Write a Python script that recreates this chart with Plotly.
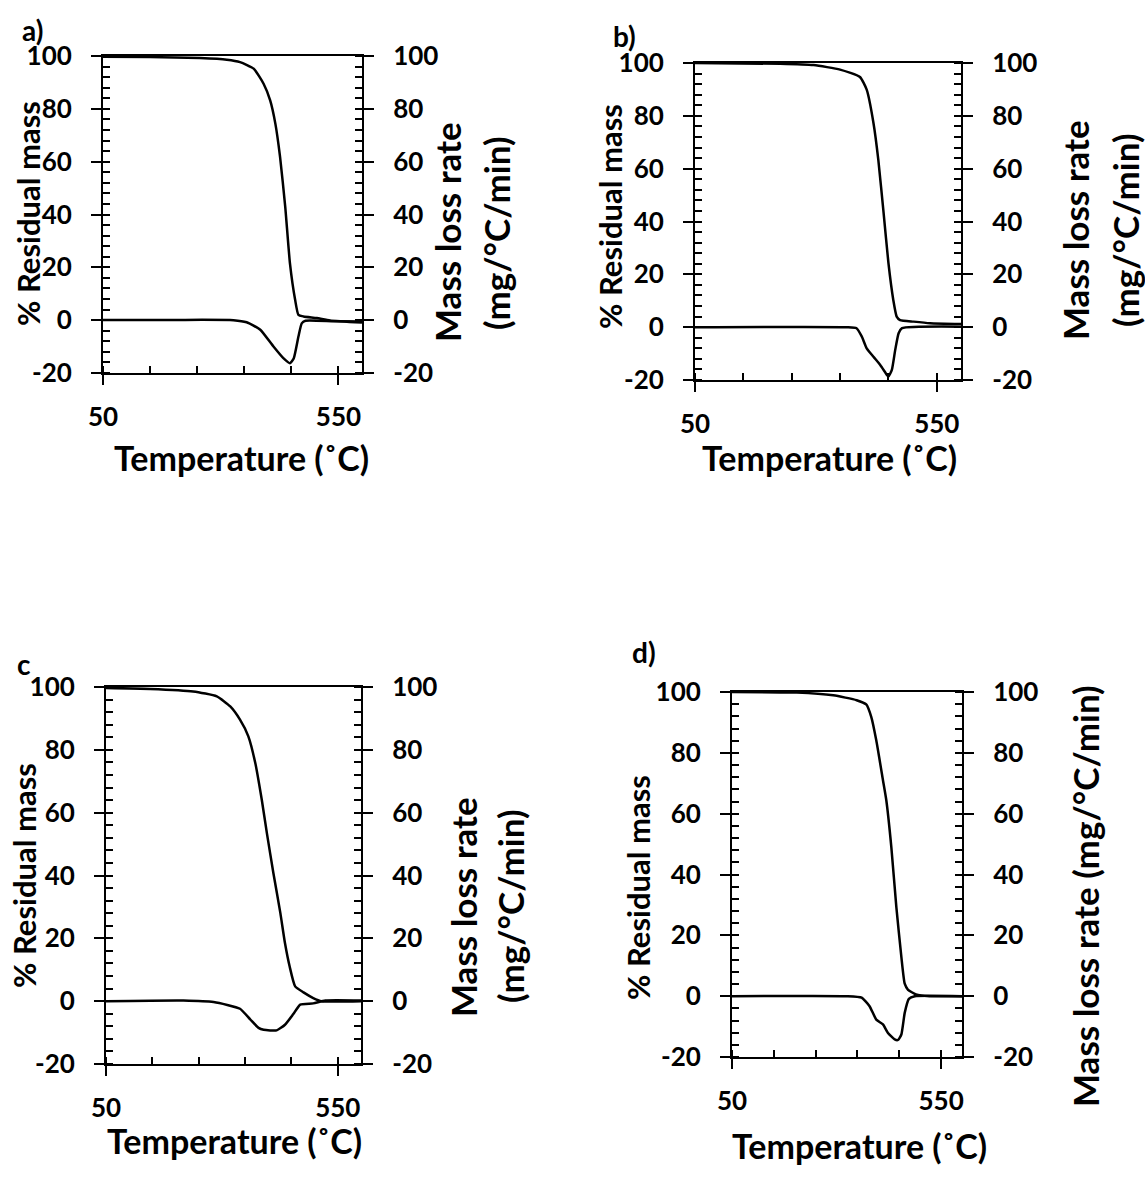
import plotly.graph_objects as go

W, H = 1145, 1177

# ---------------- data ----------------
# Panel a
temp_a_mass = [50, 150, 256, 313, 341, 370, 391, 405, 416, 426, 437, 447, 458, 465, 476, 504, 532, 600]
mass_a = [99.7, 99.6, 99.2, 98.6, 97.7, 95.2, 89.5, 83.2, 74.4, 61.8, 42.9, 21.5, 7.7, 2.0, 1.4, 0.8, -0.1, -0.9]
temp_a_dtg = [50, 200, 327, 355, 384, 412, 433, 447, 455, 465, 472, 480, 540, 600]
dtg_a = [0.1, 0.1, 0.0, -0.8, -3.6, -10.0, -14.4, -16.3, -14.5, -6.2, -1.2, -0.2, -0.4, -0.5]

# Panel b
temp_b_mass = [50, 226, 295, 350, 391, 405, 419, 429, 440, 450, 460, 467, 474, 502, 536, 600]
mass_b = [100.0, 99.7, 99.2, 97.5, 94.7, 89.9, 77.3, 63.4, 43.2, 24.2, 10.3, 4.0, 2.7, 2.1, 1.5, 1.2]
temp_b_dtg = [50, 364, 384, 395, 405, 419, 433, 447, 450, 457, 464, 471, 478, 600]
dtg_b = [0.0, 0.0, -0.4, -3.6, -8.0, -11.2, -14.3, -18.1, -18.7, -16.2, -8.6, -2.3, -0.4, 0.2]

# Panel c
temp_c_mass = [50, 145, 238, 289, 318, 339, 357, 372, 386, 397, 411, 426, 436, 446, 458, 476, 497, 515, 600]
mass_c = [99.7, 99.4, 98.6, 97.0, 93.8, 89.6, 84.3, 75.8, 64.1, 53.5, 40.8, 28.1, 18.5, 11.1, 4.7, 2.8, 1.0, 0.0, 0.0]
temp_c_dtg = [50, 217, 282, 339, 361, 379, 390, 418, 436, 454, 469, 497, 523, 600]
dtg_c = [0.0, 0.2, -0.3, -2.4, -5.8, -8.5, -9.1, -9.3, -7.5, -4.1, -1.1, -0.7, 0.2, 0.2]

# Panel d
temp_d_mass = [50, 205, 292, 348, 371, 383, 395, 411, 419, 431, 443, 455, 463, 471, 490, 522, 600]
mass_d = [100.0, 99.8, 98.9, 97.3, 95.9, 91.8, 84.1, 71.0, 64.4, 49.0, 29.3, 12.9, 4.1, 2.1, 0.6, 0.0, 0.0]
temp_d_dtg = [50, 324, 360, 379, 395, 411, 423, 439, 447, 455, 463, 473, 487, 600]
dtg_d = [0.0, 0.0, -0.5, -3.3, -7.7, -9.3, -12.1, -14.2, -14.4, -12.6, -5.5, -0.9, 0.0, 0.0]

panel_labels = ["a)", "b)", "c", "d)"]
x_tick_vals = [50, 550]
x_tick_labels = ["50", "550"]
x_minor_vals = [50, 150, 250, 350, 450, 550]
y_tick_vals = [-20, 0, 20, 40, 60, 80, 100]
y_tick_labels = ["-20", "0", "20", "40", "60", "80", "100"]
x_title = "Temperature (˚C)"
left_title = "% Residual mass"
right_title_lines = ["Mass loss rate", "(mg/°C/min)"]

# ---------------- layout geometry (pixels) ----------------
panels = [
    dict(box=(103, 362, 56, 373), tm=temp_a_mass, m=mass_a, td=temp_a_dtg, d=dtg_a,
         label=(32, 30), ltitle=(28, 214), rtitle=[(447, 232), (496, 233)], xtitle=(241, 457)),
    dict(box=(695, 961, 63, 380), tm=temp_b_mass, m=mass_b, td=temp_b_dtg, d=dtg_b,
         label=(624, 36), ltitle=(610, 217), rtitle=[(1075, 230), (1125, 230)], xtitle=(829, 457)),
    dict(box=(106, 361, 687, 1064), tm=temp_c_mass, m=mass_c, td=temp_c_dtg, d=dtg_c,
         label=(24, 664), ltitle=(24, 876), rtitle=[(463, 907), (510, 906)], xtitle=(234, 1140)),
    dict(box=(732, 962, 692, 1057), tm=temp_d_mass, m=mass_d, td=temp_d_dtg, d=dtg_d,
         label=(644, 652), ltitle=(638, 887), rtitle=[(1085, 896)], xtitle=(859, 1145)),
]

FONT = "Lato"
TICKFONT = dict(family=FONT, size=26, color="black", weight="bold")
XTITLEFONT = dict(family=FONT, size=34, color="black", weight="bold")
LTITLEFONT = dict(family=FONT, size=31, color="black", weight="bold")
RTITLEFONT = dict(family=FONT, size=35, color="black", weight="bold")

fig = go.Figure()
layout = dict(
    template="none",
    width=W, height=H, margin=dict(l=0, r=0, t=0, b=0, autoexpand=False),
    paper_bgcolor="white", plot_bgcolor="white", showlegend=False,
    font=dict(family=FONT, color="black"),
)
annotations = []

def px(x):
    return x / W

def py(y):
    return 1 - y / H

for i, p in enumerate(panels):
    l, r, t, b = p["box"]
    xn = i + 1
    yl = 2 * i + 1
    yr = 2 * i + 2
    xname = "x" if xn == 1 else f"x{xn}"
    ylname = "y" if yl == 1 else f"y{yl}"
    yrname = f"y{yr}"

    fig.add_trace(go.Scatter(x=p["tm"], y=p["m"], mode="lines", xaxis=xname, yaxis=ylname,
                             line=dict(color="black", width=2.5, shape="spline", smoothing=0.5)))
    fig.add_trace(go.Scatter(x=p["td"], y=p["d"], mode="lines", xaxis=xname, yaxis=yrname,
                             line=dict(color="black", width=2.5, shape="spline", smoothing=0.5)))

    common_axis = dict(showgrid=False, zeroline=False, showline=True, linecolor="black",
                       linewidth=2, ticks="outside", ticklen=10, tickwidth=2, tickcolor="black",
                       tickfont=TICKFONT, automargin=False)
    layout["xaxis" if xn == 1 else f"xaxis{xn}"] = dict(
        common_axis, domain=[px(l), px(r)], range=[50, 600], anchor=ylname, mirror=True,
        tickmode="array", tickvals=x_tick_vals, ticktext=x_tick_labels, ticklabelstandoff=10,
        minor=dict(ticks="inside", tickmode="array", tickvals=x_minor_vals,
                   ticklen=7, tickwidth=2, tickcolor="black"),
    )
    layout["yaxis" if yl == 1 else f"yaxis{yl}"] = dict(
        common_axis, domain=[py(b), py(t)], range=[-20, 100], anchor=xname,
        tickmode="array", tickvals=y_tick_vals, ticktext=y_tick_labels, ticklabelstandoff=14,
        minor=dict(ticks="inside", tick0=0, dtick=4, ticklen=7, tickwidth=2, tickcolor="black"),
    )
    layout[f"yaxis{yr}"] = dict(
        common_axis, domain=[py(b), py(t)], range=[-20, 100], anchor=xname,
        overlaying=ylname, side="right",
        tickmode="array", tickvals=y_tick_vals, ticktext=y_tick_labels, ticklabelstandoff=14,
        minor=dict(ticks="inside", tick0=0, dtick=4, ticklen=7, tickwidth=2, tickcolor="black"),
    )

    annotations.append(dict(text=panel_labels[i], x=px(p["label"][0]), y=py(p["label"][1]),
                            xref="paper", yref="paper", showarrow=False, xanchor="center",
                            yanchor="middle", font=dict(family=FONT, size=28, color="black", weight="bold")))
    annotations.append(dict(text=x_title, x=px(p["xtitle"][0]), y=py(p["xtitle"][1]),
                            xref="paper", yref="paper", showarrow=False, xanchor="center",
                            yanchor="middle", font=XTITLEFONT))
    annotations.append(dict(text=left_title, x=px(p["ltitle"][0]), y=py(p["ltitle"][1]),
                            xref="paper", yref="paper", showarrow=False, xanchor="center",
                            yanchor="middle", textangle=-90, font=LTITLEFONT))
    texts = right_title_lines if len(p["rtitle"]) == 2 else [" ".join(right_title_lines)]
    for (tx, ty), txt in zip(p["rtitle"], texts):
        annotations.append(dict(text=txt, x=px(tx), y=py(ty), xref="paper", yref="paper",
                                showarrow=False, xanchor="center", yanchor="middle",
                                textangle=-90, font=RTITLEFONT))

layout["annotations"] = annotations
fig.update_layout(**layout)
fig.write_html("out.html", config={"displayModeBar": False},
               post_script="document.body.style.margin='0';document.body.style.overflow='hidden';")
